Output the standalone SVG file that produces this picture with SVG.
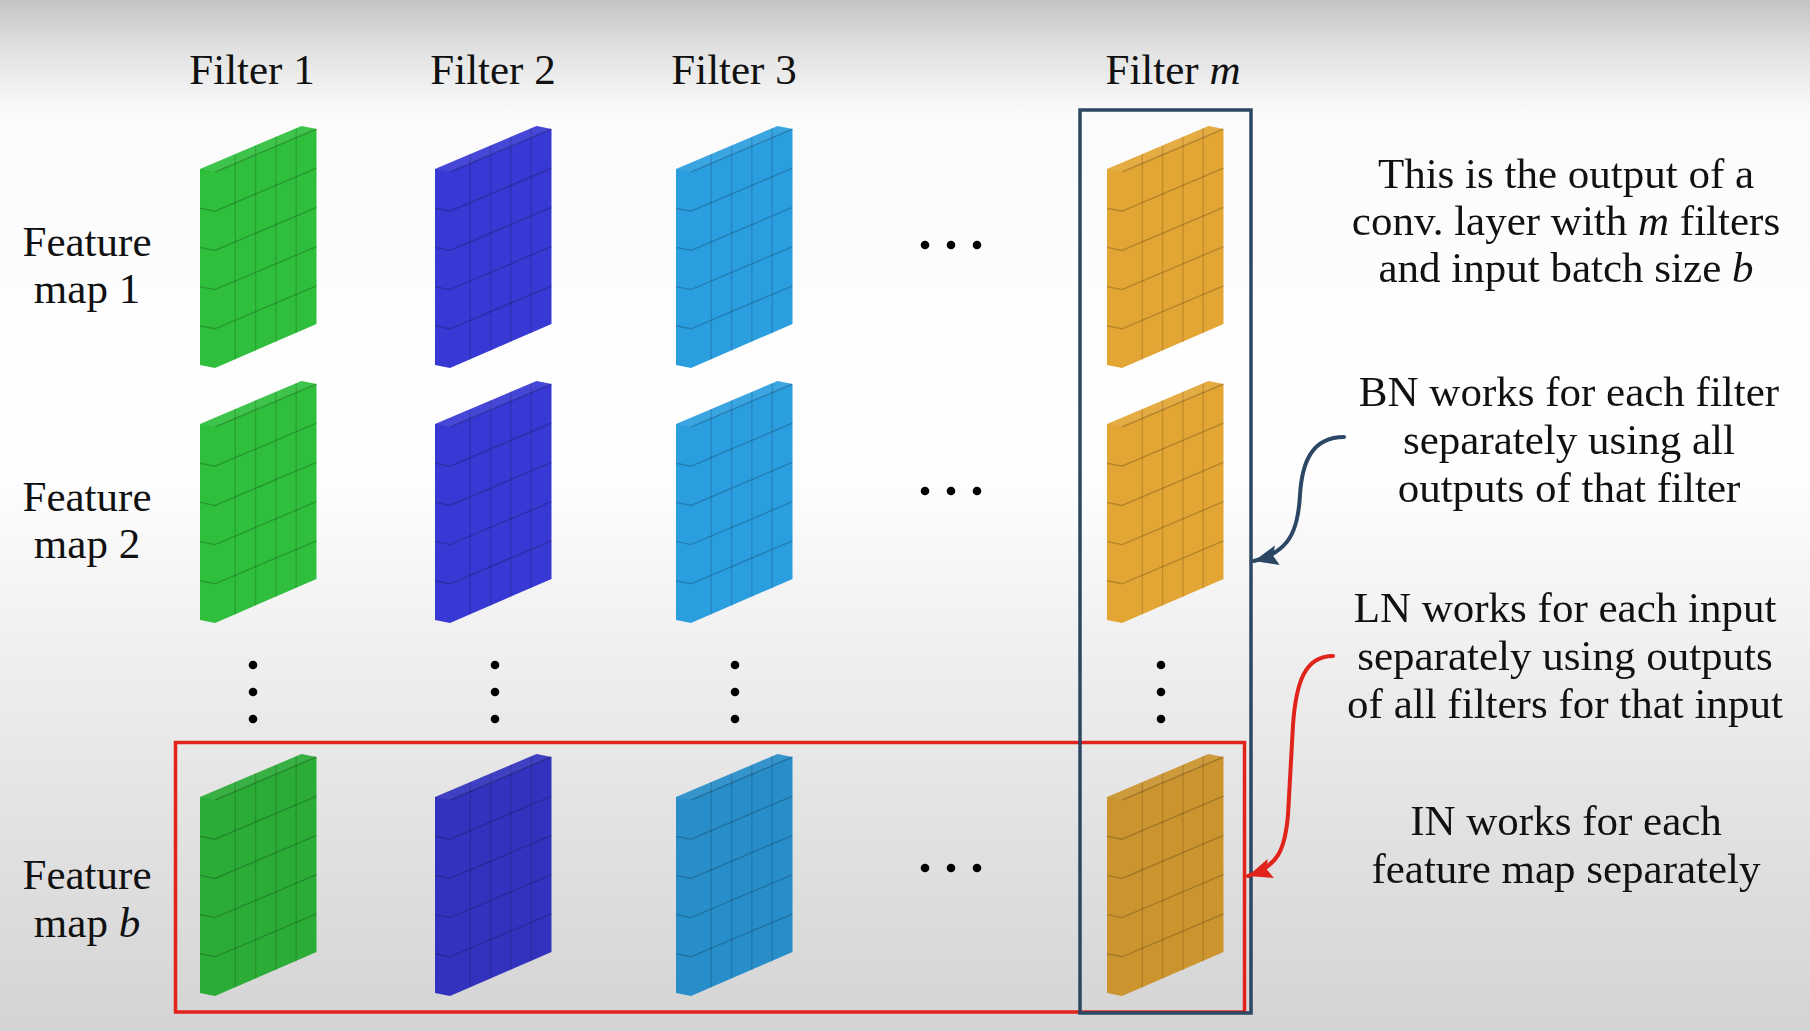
<svg xmlns="http://www.w3.org/2000/svg" xmlns:xlink="http://www.w3.org/1999/xlink" width="1810" height="1031" viewBox="0 0 1810 1031">
<defs>
<linearGradient id="bg" x1="0" y1="0" x2="0" y2="1">
<stop offset="0" stop-color="#c4c4c4"/>
<stop offset="0.05" stop-color="#e2e2e2"/>
<stop offset="0.11" stop-color="#fbfbfb"/>
<stop offset="0.45" stop-color="#ffffff"/>
<stop offset="0.6" stop-color="#f2f2f2"/>
<stop offset="0.8" stop-color="#e2e2e2"/>
<stop offset="1" stop-color="#d4d4d4"/>
</linearGradient>
<g id="slab">
<polygon points="0,0 101.5,-43 116.5,-40 116.5,155 15,199 0,196" fill="currentColor"/>
<polygon points="0,0 101.5,-43 116.5,-40 15,3" fill="#fff" fill-opacity="0.08"/>
<g class="grid">
<line class="v" x1="35.3" y1="-15" x2="35.3" y2="190.4"/>
<line class="v" x1="55.6" y1="-23.6" x2="55.6" y2="181.8"/>
<line class="v" x1="75.9" y1="-32.2" x2="75.9" y2="173.2"/>
<line class="v" x1="96.2" y1="-40.8" x2="96.2" y2="164.6"/>
<polyline points="0,39.2 15,42.2 116.5,-0.8"/>
<polyline points="0,78.4 15,81.4 116.5,38.4"/>
<polyline points="0,117.6 15,120.6 116.5,77.6"/>
<polyline points="0,156.8 15,159.8 116.5,116.8"/>
<line x1="15" y1="3" x2="116.5" y2="-40" stroke-opacity="0.1"/>
</g>
</g>
<marker id="ahNavy" markerUnits="userSpaceOnUse" markerWidth="28" markerHeight="24" refX="24" refY="12" orient="auto" viewBox="0 0 28 24">
<path d="M0,2 L24,12 L0,22 L4,12 Z" fill="#2b4763"/>
</marker>
<marker id="ahRed" markerUnits="userSpaceOnUse" markerWidth="28" markerHeight="24" refX="24" refY="12" orient="auto" viewBox="0 0 28 24">
<path d="M0,2 L24,12 L0,22 L4,12 Z" fill="#e0231b"/>
</marker>
</defs>
<style>
.t{font-family:"Liberation Serif","Times New Roman",serif;font-size:43px;fill:#111;}
.c{text-anchor:middle;}
.i{font-style:italic;}
.grid line,.grid polyline{stroke:#000;stroke-opacity:0.2;stroke-width:1.4;fill:none;}
.grid line.v{stroke-opacity:0.14;}
.green{color:#2fbf3c;}
.blue{color:#3838d4;}
.lblue{color:#2b9ee0;}
.orange{color:#e3a534;}
.dim{filter:brightness(0.9);}
.dot{fill:#000;}
</style>
<rect x="0" y="0" width="1810" height="1031" fill="url(#bg)"/>

<g id="col-labels">
<text class="t c" x="252" y="84">Filter 1</text>
<text class="t c" x="493" y="84">Filter 2</text>
<text class="t c" x="734" y="84">Filter 3</text>
<text class="t c" x="1173" y="84">Filter <tspan class="i">m</tspan></text>
</g>
<g id="row-labels">
<text class="t c" x="87" y="256">Feature</text>
<text class="t c" x="87" y="303">map 1</text>
<text class="t c" x="87" y="511">Feature</text>
<text class="t c" x="87" y="558">map 2</text>
<text class="t c" x="87" y="889">Feature</text>
<text class="t c" x="87" y="937">map <tspan class="i">b</tspan></text>
</g>

<g id="row1">
<use xlink:href="#slab" href="#slab" class="green" transform="translate(200,169)"/>
<use xlink:href="#slab" href="#slab" class="blue" transform="translate(435,169)"/>
<use xlink:href="#slab" href="#slab" class="lblue" transform="translate(676,169)"/>
<use xlink:href="#slab" href="#slab" class="orange" transform="translate(1107,169)"/>
</g>
<g id="row2">
<use xlink:href="#slab" href="#slab" class="green" transform="translate(200,424)"/>
<use xlink:href="#slab" href="#slab" class="blue" transform="translate(435,424)"/>
<use xlink:href="#slab" href="#slab" class="lblue" transform="translate(676,424)"/>
<use xlink:href="#slab" href="#slab" class="orange" transform="translate(1107,424)"/>
</g>
<g id="rowb" class="dim">
<use xlink:href="#slab" href="#slab" class="green" transform="translate(200,797)"/>
<use xlink:href="#slab" href="#slab" class="blue" transform="translate(435,797)"/>
<use xlink:href="#slab" href="#slab" class="lblue" transform="translate(676,797)"/>
<use xlink:href="#slab" href="#slab" class="orange" transform="translate(1107,797)"/>
</g>

<g id="dots">
<circle class="dot" cx="925" cy="245" r="4.3"/><circle class="dot" cx="951" cy="245" r="4.3"/><circle class="dot" cx="977" cy="245" r="4.3"/>
<circle class="dot" cx="925" cy="491" r="4.3"/><circle class="dot" cx="951" cy="491" r="4.3"/><circle class="dot" cx="977" cy="491" r="4.3"/>
<circle class="dot" cx="925" cy="868" r="4.3"/><circle class="dot" cx="951" cy="868" r="4.3"/><circle class="dot" cx="977" cy="868" r="4.3"/>
<circle class="dot" cx="253" cy="665" r="4.3"/><circle class="dot" cx="253" cy="692" r="4.3"/><circle class="dot" cx="253" cy="719" r="4.3"/>
<circle class="dot" cx="495" cy="665" r="4.3"/><circle class="dot" cx="495" cy="692" r="4.3"/><circle class="dot" cx="495" cy="719" r="4.3"/>
<circle class="dot" cx="735" cy="665" r="4.3"/><circle class="dot" cx="735" cy="692" r="4.3"/><circle class="dot" cx="735" cy="719" r="4.3"/>
<circle class="dot" cx="1161" cy="665" r="4.3"/><circle class="dot" cx="1161" cy="692" r="4.3"/><circle class="dot" cx="1161" cy="719" r="4.3"/>
</g>

<g id="red-box">
<rect x="175.5" y="742.5" width="1069" height="269.5" fill="none" stroke="#e0231b" stroke-width="3.5"/>
</g>
<g id="navy-box">
<rect x="1080" y="110" width="171" height="903" fill="none" stroke="#2b4763" stroke-width="3.5"/>
</g>

<g id="connectors" fill="none" stroke-width="4" stroke-linecap="round">
<path d="M1344,437 C1312,437 1302,462 1300,495 C1298,530 1290,552 1254,561" stroke="#2b4763" marker-end="url(#ahNavy)"/>
<path d="M1333,656 C1305,656 1296,682 1293,725 L1288,815 C1285,850 1278,866 1248,876" stroke="#e0231b" marker-end="url(#ahRed)"/>
</g>

<g id="note-output">
<text class="t c" x="1566" y="188">This is the output of a</text>
<text class="t c" x="1566" y="235">conv. layer with <tspan class="i">m</tspan> filters</text>
<text class="t c" x="1566" y="282">and input batch size <tspan class="i">b</tspan></text>
</g>
<g id="note-bn">
<text class="t c" x="1569" y="406">BN works for each filter</text>
<text class="t c" x="1569" y="454">separately using all</text>
<text class="t c" x="1569" y="502">outputs of that filter</text>
</g>
<g id="note-ln">
<text class="t c" x="1565" y="622">LN works for each input</text>
<text class="t c" x="1565" y="670">separately using outputs</text>
<text class="t c" x="1565" y="718">of all filters for that input</text>
</g>
<g id="note-in">
<text class="t c" x="1566" y="835">IN works for each</text>
<text class="t c" x="1566" y="883">feature map separately</text>
</g>
</svg>
